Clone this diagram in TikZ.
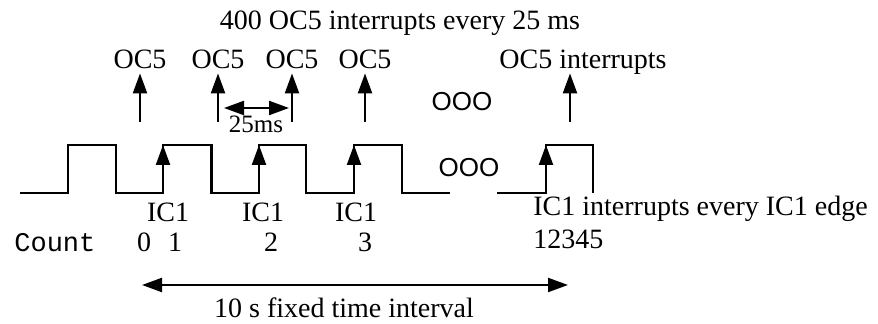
\documentclass[tikz,border=0pt]{standalone}
\usepackage{fontspec}
\setmainfont{Liberation Serif}
\setsansfont{Liberation Sans}
\setmonofont{Liberation Mono}
\usetikzlibrary{arrows.meta}
\tikzset{
  lbl/.style={inner sep=2pt,text depth=0pt,anchor=base},
  wave/.style={line width=1.1pt},
  sig/.style={line width=1.1pt,->},
}
\begin{document}
\begin{tikzpicture}[x=0.5pt,y=-0.5pt,>={Triangle[length=10pt,width=7pt]},
  every node/.style={font=\fontsize{14}{16}\selectfont}]
  \useasboundingbox (0,0) rectangle (878,324);
  % title
  \node[lbl] (title) at (400,30) {400 OC5 interrupts every 25 ms};
  % OC5 arrows
  \node[lbl] (oc1) at (140,69) {OC5};
  \node[lbl] (oc2) at (218,69) {OC5};
  \node[lbl] (oc3) at (292,69) {OC5};
  \node[lbl] (oc4) at (365,69) {OC5};
  \node[lbl,anchor=base west] (oc5) at (495,69) {OC5 interrupts};
  \coordinate (o1) at (140,122);
  \coordinate (o2) at (218,122);
  \coordinate (o3) at (292,122);
  \coordinate (o4) at (365,122);
  \coordinate (o5) at (570,122);
  \draw[sig] (o1) -- (oc1.south);
  \draw[sig] (o2) -- (oc2.south);
  \draw[sig] (o3) -- (oc3.south);
  \draw[sig] (o4) -- (oc4.south);
  \draw[sig] (o5) -- (o5 |- oc5.south);
  % 25ms
  \coordinate (m2) at (218,108);
  \coordinate (m3) at (292,108);
  \draw[line width=1.1pt,<->,shorten <=3pt,shorten >=1.5pt] (m2) -- (m3);
  \node[lbl,font=\fontsize{12.5}{14}\selectfont] (t25) at (256,133) {25ms};
  \node[font=\fontsize{13}{15}\sffamily] (dots1) at (462,102) {OOO};
  % input signal
  \draw[wave] (20,193) -| (68,145) -| (116,193) -| (163,145) -| (211.5,193)
    -| (259,145) -| (306,193) -| (354,145) -| (402,193) -- (450,193);
  \draw[wave] (497,193) -| (546,145) -| (593,193);
  \node[font=\fontsize{13}{15}\sffamily] (dots2) at (469,168) {OOO};
  \coordinate (r1) at (163,193);
  \coordinate (r2) at (259,193);
  \coordinate (r3) at (354,193);
  \coordinate (r4) at (546,193);
  \draw[sig] (r1) -- (163,145);
  \draw[sig] (r2) -- (259,145);
  \draw[sig] (r3) -- (354,145);
  \draw[sig] (r4) -- (546,145);
  % IC1 and count
  \node[lbl] (ic1) at (168,222) {IC1};
  \node[lbl] (ic2) at (263,222) {IC1};
  \node[lbl] (ic3) at (356,222) {IC1};
  \node[lbl,anchor=base west] (icnote) at (529,216) {IC1 interrupts every IC1 edge};
  \node[lbl,anchor=base west] (nums) at (529,249) {12345};
  \node[lbl,anchor=base west,font=\fontsize{13.5}{15}\ttfamily] (count) at (10,252) {Count};
  \node[lbl] (c0) at (144,252) {0};
  \node[lbl] (c1) at (175,252) {1};
  \node[lbl] (c2) at (271,252) {2};
  \node[lbl] (c3) at (365,252) {3};
  % time interval
  \coordinate (tl) at (142,285);
  \coordinate (tr) at (568,285);
  \draw[line width=1.1pt,<->] (tl) -- (tr);
  \node[lbl] (tint) at (344,318) {10 s fixed time interval};
\end{tikzpicture}
\end{document}
